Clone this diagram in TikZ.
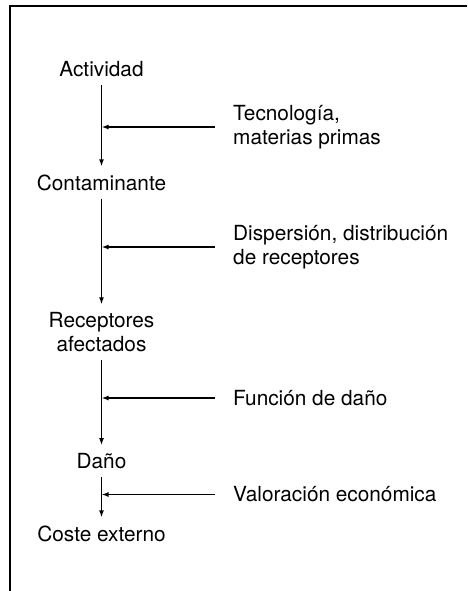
\documentclass[tikz,border=0pt]{standalone}
\usepackage{fontspec}
\setmainfont{TeX Gyre Heros}
\usetikzlibrary{arrows.meta}

\tikzset{
  stage/.style={inner xsep=0pt, inner ysep=8pt, align=center},
  factor/.style={anchor=west, inner xsep=18pt, inner ysep=0pt, align=left},
  flow/.style={line width=1.4pt, -{Latex[length=7pt,width=5pt]}},
}

\begin{document}
\begin{tikzpicture}[x=1pt,y=-1pt,
  every node/.style={font=\fontsize{20.8}{23.5}\selectfont}]
\useasboundingbox (0,0) rectangle (467,591);

% Frame
\draw[line width=2pt] (10,591) -- (10,6) -- (467,6);

% Stages
\node[stage] (act) at (101.5,69.5) {Actividad};
\node[stage] (cont) at (101.5,182.5) {Contaminante};
\node[stage] (rec) at (101.5,332) {Receptores\\afectados};
\node[stage] (dano) at (101.5,461) {Daño};
\node[stage] (coste) at (101.5,533.5) {Coste externo};

\draw[flow] (act) -- (cont);
\draw[flow] (cont) -- (rec);
\draw[flow] (rec) -- (dano);
\draw[flow] (dano) -- (coste);

% Factors
\node[factor] (tec) at (215,127) {Tecnología,\\materias primas};
\node[factor] (disp) at (215,247) {Dispersión, distribución\\de receptores};
\node[factor] (func) at (215,398) {Función de daño};
\node[factor] (val) at (215,494.5) {Valoración económica};

\draw[flow] (tec.west) -- (tec.west -| act);
\draw[flow] (disp.west) -- (disp.west -| act);
\draw[flow] (func.west) -- (func.west -| act);
\draw[flow] (val.west) -- (val.west -| act);

\end{tikzpicture}
\end{document}
